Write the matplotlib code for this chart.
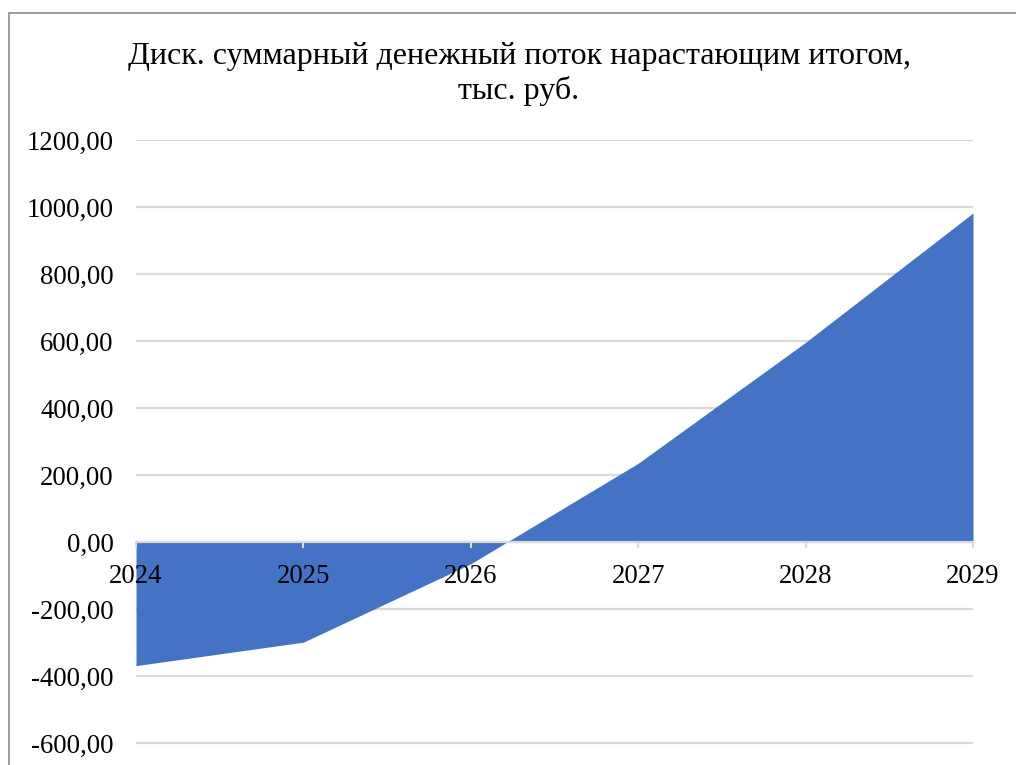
import matplotlib
matplotlib.use("Agg")
import matplotlib.pyplot as plt
from matplotlib.ticker import FuncFormatter, MultipleLocator
from matplotlib.patches import Rectangle

# Data
years = [2024, 2025, 2026, 2027, 2028, 2029]
cum_dcf = [-369.0, -299.0, -65.0, 235.0, 596.0, 982.0]

title = "Диск. суммарный денежный поток нарастающим итогом,\nтыс. руб."

plt.rcParams["font.family"] = ["Liberation Serif", "DejaVu Serif"]

W, H = 1016, 765
fig = plt.figure(figsize=(W / 100, H / 100), dpi=100)

# chart border (cropped on the right and bottom in the reference)
fig.patches.append(Rectangle((9 / W, -0.1), 1.2, 1 - 13 / H + 0.1,
                             transform=fig.transFigure, fill=False,
                             edgecolor="#8c8c8c", linewidth=1.2))

ax = fig.add_axes([136 / W, 0, (973 - 136) / W, 1 - 140 / H])

ax.fill_between(years, cum_dcf, 0, color="#4472C4", linewidth=0, zorder=1)

ax.set_xlim(2024, 2029)
ax.set_ylim(-600 - (765 - 743) / 0.335, 1200)
ax.yaxis.set_major_locator(MultipleLocator(200))
ax.yaxis.set_major_formatter(FuncFormatter(lambda v, p: f"{v:.2f}".replace(".", ",")))
ax.set_xticks(years)
ax.set_xticklabels([str(y) for y in years])

ax.grid(axis="y", color="#d9d9d9", linewidth=1.6)
ax.set_axisbelow(True)
ax.xaxis.set_zorder(3)

for s in ["top", "right", "left"]:
    ax.spines[s].set_visible(False)
ax.spines["bottom"].set_position(("data", 0))
ax.spines["bottom"].set_color("#d9d9d9")
ax.spines["bottom"].set_linewidth(1.6)
ax.spines["bottom"].set_zorder(2)

ax.tick_params(axis="y", length=0, pad=16, labelsize=19.3, labelcolor="black")
ax.tick_params(axis="x", length=4, width=1.5, color="#d9d9d9", pad=12,
               labelsize=19.3, labelcolor="black")

fig.text(519 / W, 1 - 74 / H, title, ha="center", va="center",
         fontsize=23, linespacing=1.25)

fig.savefig("out.png", dpi=100)
